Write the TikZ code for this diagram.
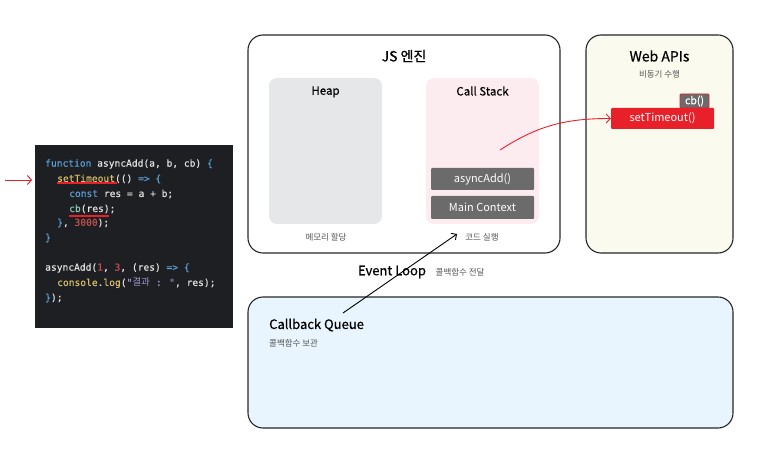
\documentclass[tikz,border=0pt]{standalone}
\usepackage{fontspec}
\setmainfont{Noto Sans CJK KR}
\newfontfamily\headfont{Noto Sans CJK KR}[FakeBold=0.6]
\newfontfamily\codefont{DejaVu Sans Mono}[FakeBold=0.4]
\newfontfamily\codecjk{Noto Sans CJK KR}
\usetikzlibrary{arrows.meta,positioning}

\definecolor{codebg}{HTML}{1E1F22}
\definecolor{kwblue}{HTML}{5A9FD4}
\definecolor{fnyellow}{HTML}{D8BE6A}
\definecolor{numred}{HTML}{C2504E}
\definecolor{cbgreen}{HTML}{8CC9B0}
\definecolor{strpurple}{HTML}{A193C9}
\definecolor{codewhite}{HTML}{E0E0E0}
\definecolor{heapgray}{HTML}{E6E7E9}
\definecolor{stackpink}{HTML}{FDECEF}
\definecolor{framegray}{HTML}{6B6B6B}
\definecolor{apiivory}{HTML}{FBFAEF}
\definecolor{queueblue}{HTML}{E8F5FE}
\definecolor{alertred}{HTML}{E8202A}
\definecolor{notegray}{HTML}{555555}

\begin{document}
\begin{tikzpicture}[x=1pt,y=-1pt,
    panel/.style = {draw=black!85, line width=1.1pt, rounded corners=15pt, inner sep=0pt},
    area/.style = {rounded corners=8pt, inner sep=0pt, minimum width=113pt, minimum height=146pt},
    frame/.style = {fill=framegray, text=white, rounded corners=1pt, minimum width=103pt,
                    inner sep=0pt, font=\fontsize{11}{13}\selectfont},
    title/.style = {font=\headfont\fontsize{14}{16}\selectfont},
    subtitle/.style = {font=\headfont\fontsize{11.5}{13}\selectfont},
    note/.style = {text=notegray, font=\fontsize{8.5}{10}\selectfont},
    code/.style = {anchor=west, inner sep=0pt, text=codewhite, font=\codefont\fontsize{9.6}{12}\selectfont},
    redarrow/.style = {draw=alertred, line width=0.9pt, -{Straight Barb[length=4pt,width=9pt]}}]
    \useasboundingbox (0,0) rectangle (768,454);

    % code snippet
    \node [fill=codebg, minimum width=198pt, minimum height=183pt, inner sep=0pt] (code) at (134,236.5) {};
    \node [code] (l1) at (45,164) {\textcolor{kwblue}{function} asyncAdd(a, b, cb) \textcolor{kwblue}{\{}};
    \node [code] (l2) at (57,179) {\textcolor{fnyellow}{setTimeout}(() \textcolor{kwblue}{=> \{}};
    \node [code] (l3) at (69,194) {\textcolor{kwblue}{const} res = a + b;};
    \node [code] (l4) at (69,209) {\textcolor{cbgreen}{cb}(res);};
    \node [code] (l5) at (57,223) {\textcolor{kwblue}{\}}, \textcolor{numred}{3000});};
    \node [code] (l6) at (45,238) {\textcolor{kwblue}{\}}};
    \node [code] (l7) at (45,268) {asyncAdd(\textcolor{numred}{1}, \textcolor{numred}{3}, (res) \textcolor{kwblue}{=> \{}};
    \node [code] (l8) at (57,283) {\textcolor{fnyellow}{console}.\textcolor{fnyellow}{log}(\textcolor{strpurple}{"{\codecjk 결과} : "}, res);};
    \node [code] (l9) at (45,298) {\textcolor{kwblue}{\}});};
    \draw [alertred, line width=1.2pt] (57,183) -- (117,183);
    \draw [alertred, line width=1.2pt] (69,216) -- (109,216);
    \coordinate (pointer) at (5,180);
    \coordinate (pointer tip) at (32,180);
    \draw [redarrow] (pointer) -- (pointer tip);

    % JS engine
    \node [panel, minimum width=312pt, minimum height=218pt] (engine) at (404,144) {};
    \node [title] (enginetitle) at (404,56) {JS 엔진};
    \node [area, fill=heapgray] (heap) at (325.5,151) {};
    \node [subtitle, below=5pt of heap.north] (heaptitle) {Heap};
    \node [note] (heapnote) at (326,237) {메모리 할당};
    \node [area, fill=stackpink] (stack) at (482.5,151) {};
    \node [subtitle, below=5pt of stack.north] (stacktitle) {Call Stack};
    \node [note] (stacknote) at (482,237) {코드 실행};
    \node [frame, minimum height=22pt] (asyncadd) at (482.5,179) {asyncAdd()};
    \node [frame, minimum height=23pt] (main) at (482.5,207.5) {Main Context};

    % Web APIs
    \node [panel, fill=apiivory, minimum width=147pt, minimum height=218pt] (webapi) at (659.5,144) {};
    \node [title] (webapititle) at (659.5,56) {Web APIs};
    \node [note] (webapinote) at (659.5,74) {비동기 수행};
    \node [fill=framegray, draw=alertred, line width=0.9pt, text=white, rounded corners=1pt,
           minimum width=29pt, minimum height=14pt, inner sep=0pt,
           font=\headfont\fontsize{10.5}{12}\selectfont] (cb) at (694.5,101) {cb()};
    \node [frame, fill=alertred, minimum height=21pt] (timeout) at (662.5,118.5) {setTimeout()};

    % callback queue
    \node [panel, fill=queueblue, minimum width=485pt, minimum height=131pt] (queue) at (490.5,362.5) {};
    \node [anchor=west, inner sep=0pt, font=\headfont\fontsize{13}{15}\selectfont] (queuetitle) at (269,325) {Callback Queue};
    \node [note, anchor=west, inner sep=0pt] (queuenote) at (269,343) {콜백함수 보관};

    % connectors
    \coordinate (handoff) at (500,150);
    \draw [redarrow] (handoff) to [out=33, in=180] (timeout.west);
    \coordinate (loop start) at (343,313);
    \coordinate (loop end) at (457,234);
    \draw [black, line width=0.9pt, -{Straight Barb[length=4pt,width=8pt]}] (loop start) -- (loop end);
    \node [font=\headfont\fontsize{13}{15}\selectfont, inner sep=0pt] (loop) at (392,272) {Event Loop};
    \node [note, right=6pt of loop] (loopnote) {콜백함수 전달};
\end{tikzpicture}
\end{document}
